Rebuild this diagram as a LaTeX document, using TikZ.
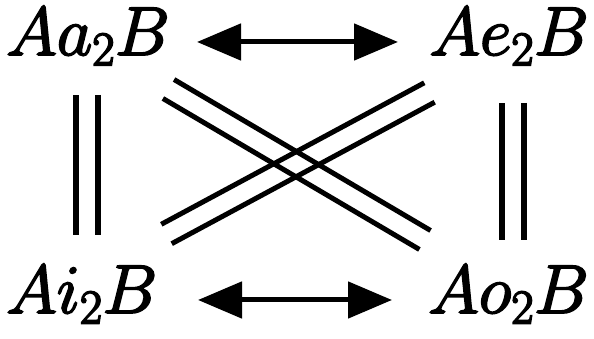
\RequirePackage{fix-cm}
\documentclass[tikz,border=0pt]{standalone}
\usetikzlibrary{arrows.meta,calc}

% slightly heavier glyphs, like the printed original
\newcommand{\heavy}[1]{\special{pdf:literal direct 2 Tr 1.8 w}#1\special{pdf:literal direct 0 Tr}}

\begin{document}
\begin{tikzpicture}[
    x=1pt, y=1pt,
    term/.style={inner sep=0pt, font=\fontsize{69}{69}\selectfont},
    conv/.style={{Triangle[length=44pt,width=36pt]}-{Triangle[length=44pt,width=36pt]},
                 line width=5pt},
    eqv/.style={double, line width=6pt, double distance=16pt},
    rail/.style={line width=5pt},
  ]
  \useasboundingbox (0,0) rectangle (594,339);

  % --- Corners ------------------------------------------------------------
  \node[term, anchor=base west] (aa) at (6,284)  {\heavy{$Aa_2B$}};
  \node[term, anchor=base east] (ae) at (589,284) {\heavy{$Ae_2B$}};
  \node[term, anchor=base west] (ai) at (6,26)    {\heavy{$Ai_2B$}};
  \node[term, anchor=base east] (ao) at (589,26)  {\heavy{$Ao_2B$}};

  % --- Horizontal arrows --------------------------------------------------
  \draw[conv] ([shift={(191pt,13pt)}]aa.base west) -- ([shift={(-191pt,13pt)}]ae.base east);
  \draw[conv] ([shift={(192pt,13pt)}]ai.base west) -- ([shift={(-197pt,13pt)}]ao.base east);

  % --- Vertical equivalences ----------------------------------------------
  \draw[eqv] ([shift={(81pt,-40pt)}]aa.base west) -- ([shift={(81pt,78pt)}]ai.base west);
  \draw[eqv] ([shift={(-76pt,-48pt)}]ae.base east) -- ([shift={(-76pt,73pt)}]ao.base east);

  % --- Diagonals ----------------------------------------------------------
  % two single rails each, so that both pairs stay visible where they cross
  \coordinate (d1a) at ([shift={(162.5pt,-34pt)}]aa.base west);
  \coordinate (d1b) at ([shift={(-164pt,73pt)}]ao.base east);
  \coordinate (d2a) at ([shift={(160.5pt,79pt)}]ai.base west);
  \coordinate (d2b) at ([shift={(-159.5pt,-37.5pt)}]ae.base east);

  \draw[rail] ($(d1a)!11pt!90:(d1b)$) -- ($(d1b)!11pt!-90:(d1a)$);
  \draw[rail] ($(d1a)!11pt!-90:(d1b)$) -- ($(d1b)!11pt!90:(d1a)$);
  \draw[rail] ($(d2a)!11pt!90:(d2b)$) -- ($(d2b)!11pt!-90:(d2a)$);
  \draw[rail] ($(d2a)!11pt!-90:(d2b)$) -- ($(d2b)!11pt!90:(d2a)$);

\end{tikzpicture}
\end{document}
